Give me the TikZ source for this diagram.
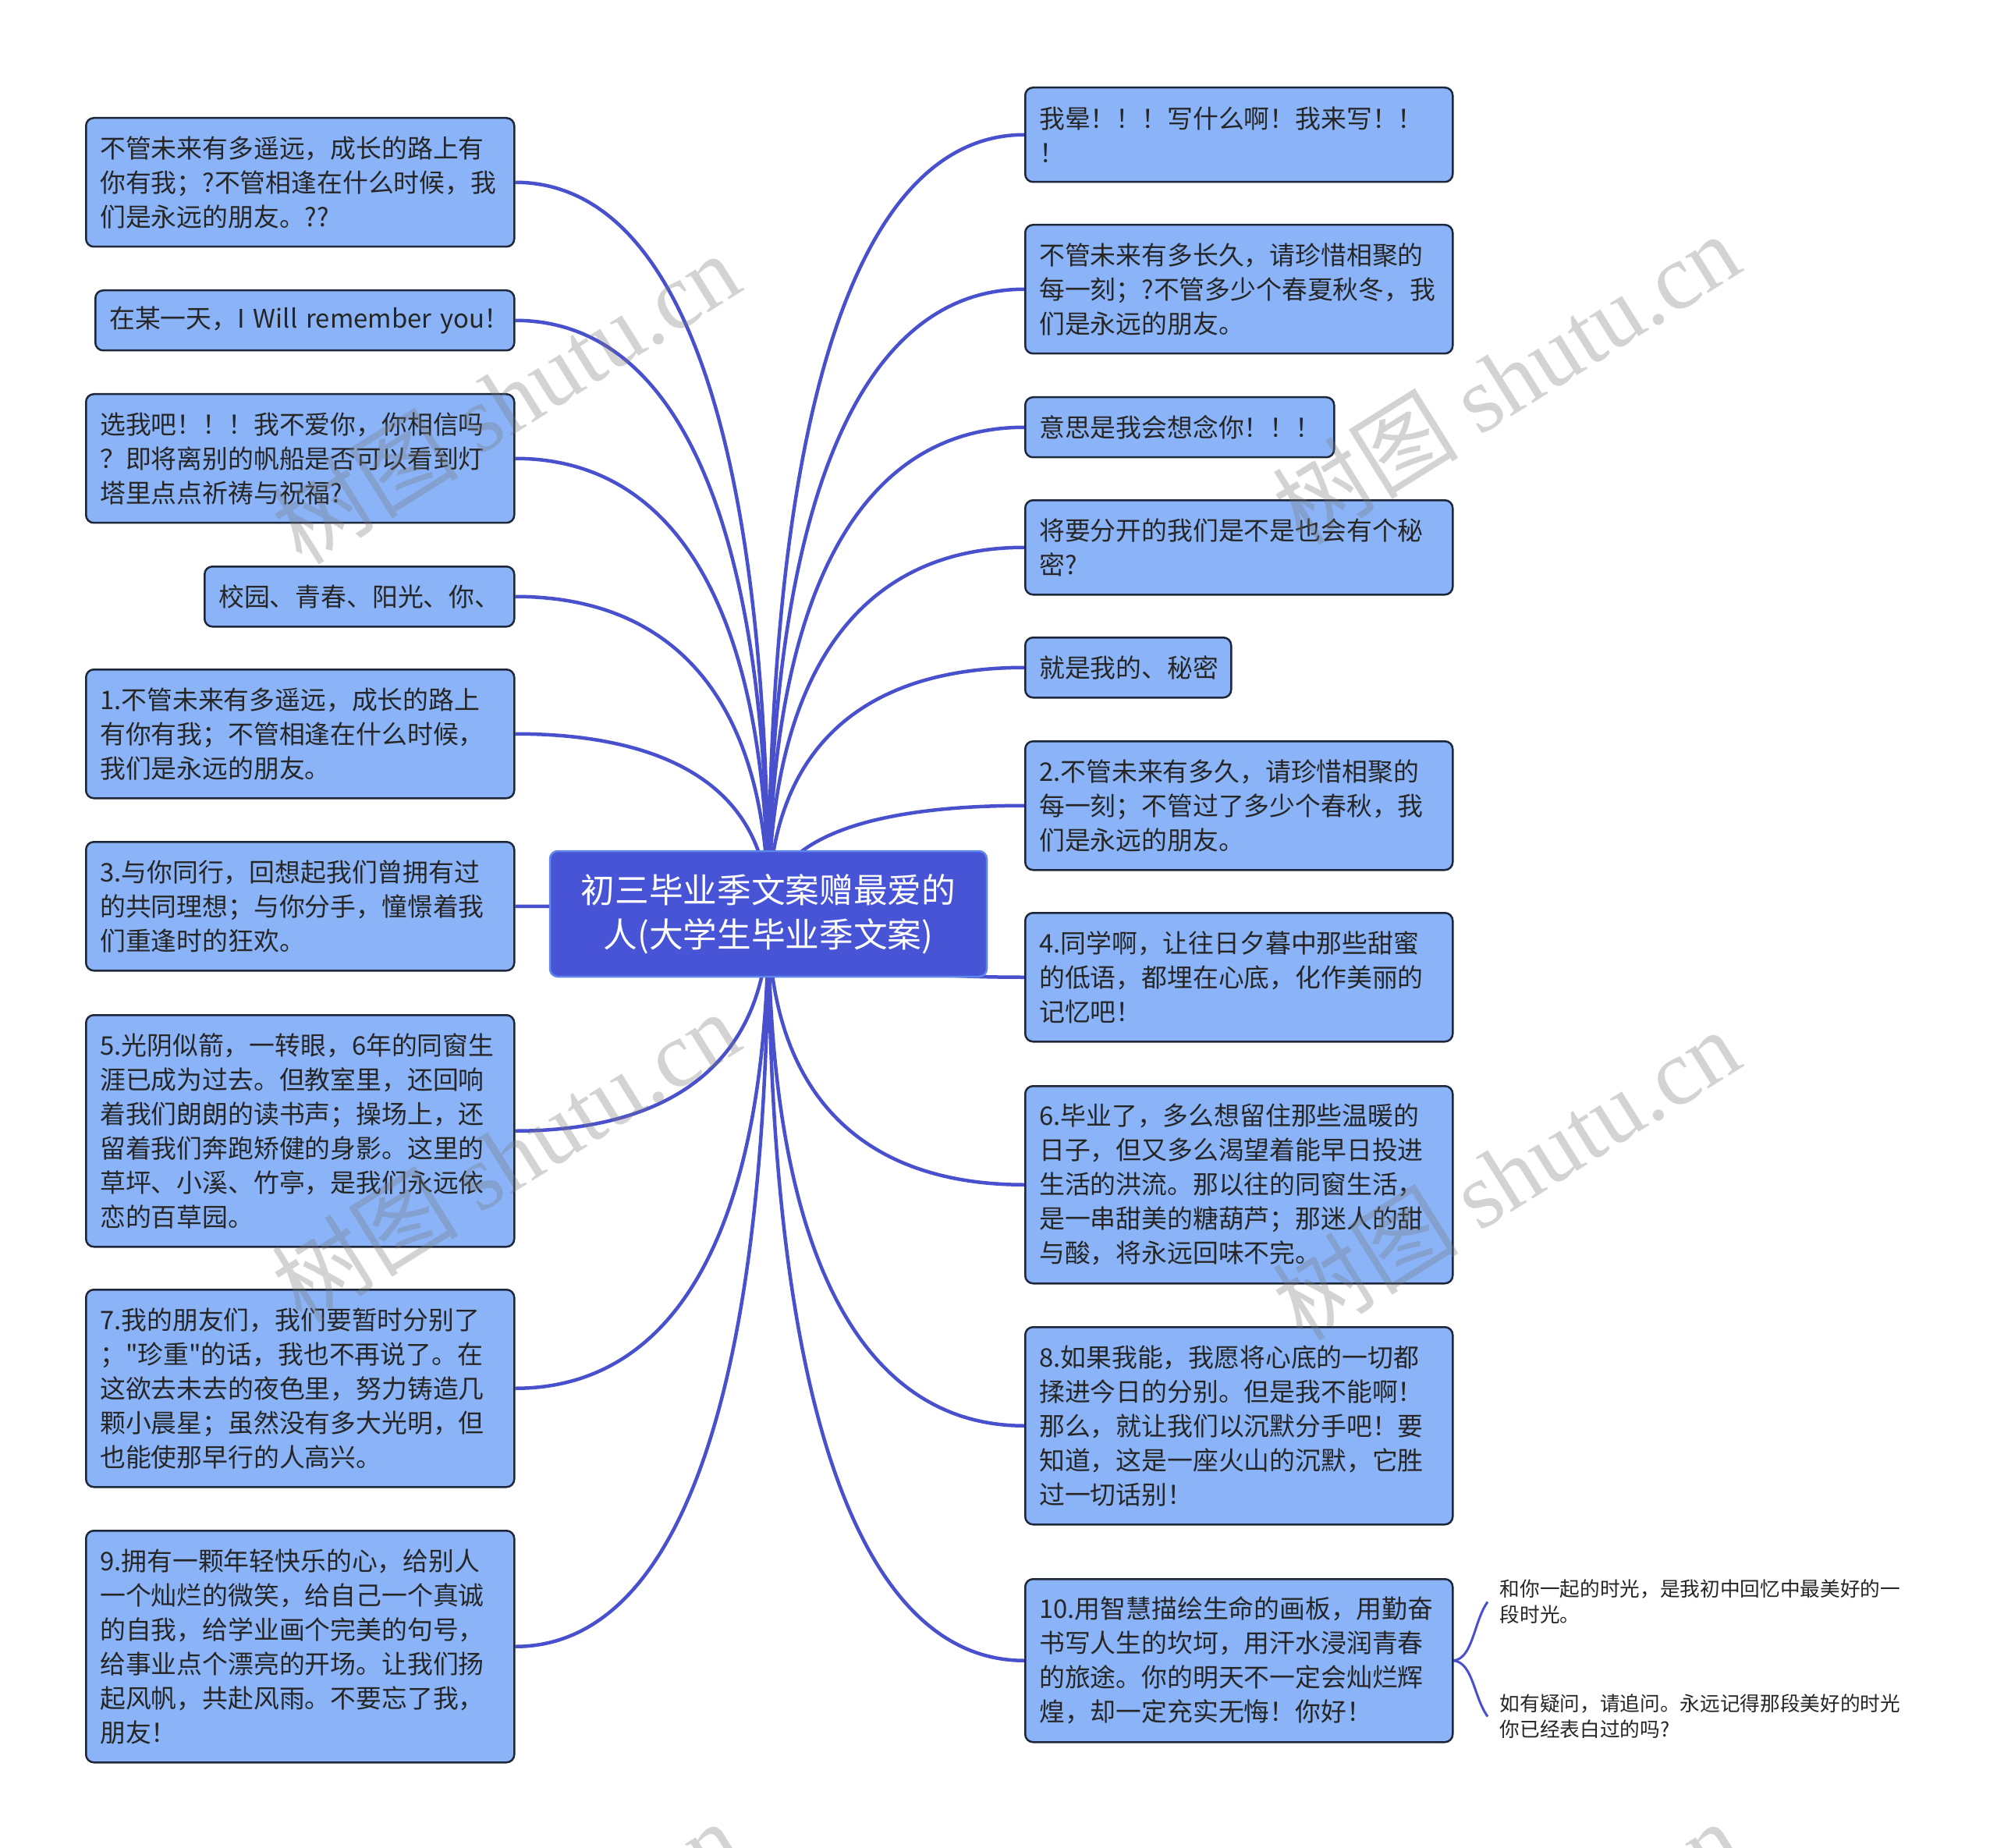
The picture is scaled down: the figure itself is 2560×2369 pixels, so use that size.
\documentclass[tikz,border=0pt]{standalone}
\usepackage{fontspec}
\setmainfont{Noto Sans CJK SC}[Ligatures=TeXOff]
\newfontfamily\wmlatin{Liberation Serif}
\usetikzlibrary{calc,backgrounds}
\definecolor{boxfill}{RGB}{139,180,248}
\definecolor{boxline}{RGB}{30,38,58}
\definecolor{conncol}{RGB}{72,80,205}
\definecolor{hubfill}{RGB}{72,84,214}
\definecolor{hubline}{RGB}{95,135,235}
\definecolor{txtcol}{RGB}{38,38,38}
\definecolor{wmcol}{RGB}{120,120,120}
\begin{document}
\begin{tikzpicture}[x=0.3pt,y=-0.3pt,
  topic/.style={draw=boxline, fill=boxfill, line width=0.75pt, rounded corners=3pt,
    anchor=north west, align=left, inner xsep=5.4pt, inner ysep=0pt, text=txtcol,
    font=\fontsize{9.85pt}{13.2pt}\selectfont},
  wide/.style={text width=153.9pt},
  hub/.style={draw=hubline, fill=hubfill, line width=0.75pt, rounded corners=3pt,
    align=center, text=white, minimum width=168pt, minimum height=48.3pt,
    inner sep=0pt, font=\fontsize{13.1pt}{17.1pt}\selectfont},
  conn/.style={draw=conncol, line width=1.35pt},
  brace/.style={draw=conncol, line width=0.9pt},
  note/.style={anchor=west, align=left, inner xsep=4.5pt, inner ysep=0pt, text=txtcol,
    font=\fontsize{7.7pt}{9.9pt}\selectfont},
  wm/.style={rotate=32, text=wmcol, text opacity=0.32, inner sep=0pt,
    font=\fontsize{36pt}{36pt}\selectfont}]
\useasboundingbox (0,0) rectangle (2560,2369);

% hub
\node[hub] (c) at (985,1171.5) {初三毕业季文案赠最爱的\\人(大学生毕业季文案)};

% left topics
\node[topic, wide, minimum height=49.5pt] (L1) at (109,150) {不管未来有多遥远，成长的路上有\\你有我；?不管相逢在什么时候，我\\们是永远的朋友。??};
\node[topic, text width=150.3pt, minimum height=23.1pt] (L2) at (121,371) {\mbox{在某一天，I Will remember you！}};
\node[topic, wide, minimum height=49.5pt] (L3) at (109,504) {选我吧！！！我不爱你，你相信吗\\？即将离别的帆船是否可以看到灯\\塔里点点祈祷与祝福?};
\node[topic, text width=108.3pt, minimum height=23.1pt] (L4) at (261,725) {校园、青春、阳光、你、};
\node[topic, wide, minimum height=49.5pt] (L5) at (109,857) {1.不管未来有多遥远，成长的路上\\有你有我；不管相逢在什么时候，\\我们是永远的朋友。};
\node[topic, wide, minimum height=49.5pt] (L6) at (109,1078) {3.与你同行，回想起我们曾拥有过\\的共同理想；与你分手，憧憬着我\\们重逢时的狂欢。};
\node[topic, wide, minimum height=89.1pt] (L7) at (109,1300) {5.光阴似箭，一转眼，6年的同窗生\\涯已成为过去。但教室里，还回响\\着我们朗朗的读书声；操场上，还\\留着我们奔跑矫健的身影。这里的\\草坪、小溪、竹亭，是我们永远依\\恋的百草园。};
\node[topic, wide, minimum height=75.9pt] (L8) at (109,1652) {7.我的朋友们，我们要暂时分别了\\；"珍重"的话，我也不再说了。在\\这欲去未去的夜色里，努力铸造几\\颗小晨星；虽然没有多大光明，但\\也能使那早行的人高兴。};
\node[topic, wide, minimum height=89.1pt] (L9) at (109,1961) {9.拥有一颗年轻快乐的心，给别人\\一个灿烂的微笑，给自己一个真诚\\的自我，给学业画个完美的句号，\\给事业点个漂亮的开场。让我们扬\\起风帆，共赴风雨。不要忘了我，\\朋友！};

% right topics
\node[topic, text width=153.6pt, minimum height=36.3pt] (R1) at (1313,111) {我晕！！！写什么啊！我来写！！\\！};
\node[topic, text width=153.6pt, minimum height=49.5pt] (R2) at (1313,287) {不管未来有多长久，请珍惜相聚的\\每一刻；?不管多少个春夏秋冬，我\\们是永远的朋友。};
\node[topic, text width=108.0pt, minimum height=23.1pt] (R3) at (1313,508) {意思是我会想念你！！！};
\node[topic, text width=153.6pt, minimum height=36.3pt] (R4) at (1313,640) {将要分开的我们是不是也会有个秘\\密?};
\node[topic, text width=68.4pt, minimum height=23.1pt] (R5) at (1313,816) {就是我的、秘密};
\node[topic, text width=153.6pt, minimum height=49.5pt] (R6) at (1313,949) {2.不管未来有多久，请珍惜相聚的\\每一刻；不管过了多少个春秋，我\\们是永远的朋友。};
\node[topic, text width=153.6pt, minimum height=49.5pt] (R7) at (1313,1169) {4.同学啊，让往日夕暮中那些甜蜜\\的低语，都埋在心底，化作美丽的\\记忆吧！};
\node[topic, text width=153.6pt, minimum height=75.9pt] (R8) at (1313,1391) {6.毕业了，多么想留住那些温暖的\\日子，但又多么渴望着能早日投进\\生活的洪流。那以往的同窗生活，\\是一串甜美的糖葫芦；那迷人的甜\\与酸，将永远回味不完。};
\node[topic, text width=153.6pt, minimum height=75.9pt] (R9) at (1313,1700) {8.如果我能，我愿将心底的一切都\\揉进今日的分别。但是我不能啊！\\那么，就让我们以沉默分手吧！要\\知道，这是一座火山的沉默，它胜\\过一切话别！};
\node[topic, text width=153.6pt, minimum height=62.7pt] (R10) at (1313,2023) {10.用智慧描绘生命的画板，用勤奋\\书写人生的坎坷，用汗水浸润青春\\的旅途。你的明天不一定会灿烂辉\\煌，却一定充实无悔！你好！};

% notes of R10
\node[note] (S1) at (1907,2053.5) {和你一起的时光，是我初中回忆中最美好的一\\段时光。};
\node[note] (S2) at (1907,2200.5) {如有疑问，请追问。永远记得那段美好的时光\\你已经表白过的吗?};

\begin{scope}[on background layer]
  \fill[white] (0,0) rectangle (2560,2369);
  \foreach \n in {L1,L2,L3,L4,L5,L6,L7,L8,L9}
    \draw[conn] (c.center) .. controls ($(c.center |- \n.east)!0.3!(c.center)$) and ($(\n.east)!0.6!(c.center |- \n.east)$) .. (\n.east);
  \foreach \n in {R1,R2,R3,R4,R5,R6,R7,R8,R9,R10}
    \draw[conn] (c.center) .. controls ($(c.center |- \n.west)!0.3!(c.center)$) and ($(\n.west)!0.6!(c.center |- \n.west)$) .. (\n.west);
  \draw[brace] (R10.east) .. controls +(25,-3) and +(-18,25) .. (S1.west);
  \draw[brace] (R10.east) .. controls +(25,3) and +(-18,-25) .. (S2.west);
\end{scope}

% watermarks
\node[wm] (w1) at (648,510) {树图 {\wmlatin shutu.cn}};
\node[wm] (w2) at (1930,485) {树图 {\wmlatin shutu.cn}};
\node[wm] (w3) at (648,1482) {树图 {\wmlatin shutu.cn}};
\node[wm] (w4) at (1930,1505) {树图 {\wmlatin shutu.cn}};
\node[wm] (w5) at (648,2520) {树图 {\wmlatin shutu.cn}};
\node[wm] (w6) at (1930,2520) {树图 {\wmlatin shutu.cn}};
\end{tikzpicture}
\end{document}
